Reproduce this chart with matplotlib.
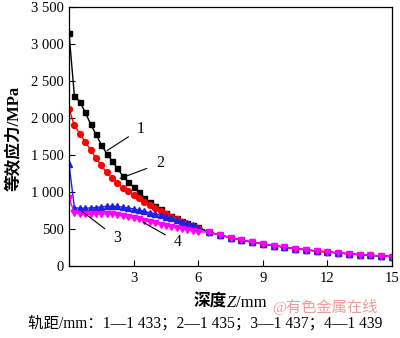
import matplotlib.pyplot as plt
from matplotlib.ticker import FuncFormatter
import numpy as np

plt.rcParams['font.family'] = ['Liberation Serif', 'Noto Sans CJK SC']

# depth, mm: 0.25 mm steps near the surface, 0.5 mm steps in the tail
depth_near = [0, 0.25, 0.5, 0.75, 1.0, 1.25, 1.5, 1.75, 2.0, 2.25, 2.5, 2.75,
              3.0, 3.25, 3.5, 3.75, 4.0, 4.25, 4.5, 4.75, 5.0, 5.25, 5.5, 5.75, 6.0]
depth_tail = [6.5, 7.0, 7.5, 8.0, 8.5, 9.0, 9.5, 10.0, 10.5, 11.0, 11.5,
              12.0, 12.5, 13.0, 13.5, 14.0, 14.5, 15.0]

# equivalent stress, MPa (gauge 1433 / 1435 / 1437 / 1439)
stress_1433 = [3150, 2300, 2220, 2080, 1920, 1780, 1640, 1520, 1420, 1320, 1215, 1140,
               1065, 995, 920, 865, 815, 765, 720, 680, 645, 615, 580, 555, 525]
stress_1435 = [2120, 1900, 1790, 1680, 1570, 1460, 1360, 1265, 1190, 1120, 1060, 1010,
               960, 915, 865, 820, 780, 740, 705, 668, 635, 600, 568, 540, 510]
stress_1437 = [1380, 790, 780, 780, 785, 790, 800, 805, 808, 805, 795, 785,
               770, 755, 740, 722, 705, 685, 665, 645, 620, 598, 575, 550, 520]
stress_1439 = [920, 720, 705, 700, 700, 702, 705, 705, 700, 690, 675, 660,
               645, 630, 612, 595, 578, 560, 545, 530, 515, 500, 488, 475, 462]
stress_tail = [458, 418, 385, 352, 322, 298, 276, 256, 236, 218, 203,
               190, 177, 165, 154, 144, 136, 128]

labels = ['1', '2', '3', '4']
caption = '轨距/mm：1—1 433；2—1 435；3—1 437；4—1 439'

fig = plt.figure(figsize=(4.0, 3.38), dpi=100)
ax = fig.add_axes([0.1725, 0.213, 0.8075, 0.766])

z = depth_near + depth_tail
styles = [('black', 's', 3.6), ('red', 'o', 4.2), ('#1f1fe6', '^', 4.6), ('#ff00ff', 'v', 4.6)]
for vals, (c, m, ms) in zip([stress_1433, stress_1435, stress_1437, stress_1439], styles):
    ax.plot(z, vals + stress_tail, color=c, marker=m, markersize=ms, lw=1.0)

# leader lines with curve numbers
leaders = [((1.77, 1561), (3.35, 1857)), ((2.37, 1184), (4.23, 1386)),
           ((0.6, 740), (2.23, 377)), ((3.44, 592), (5.07, 323))]
for lab, (end, txt) in zip(labels, leaders):
    ax.annotate(lab, xy=end, xytext=txt, fontsize=11.5, ha='center', va='center',
                arrowprops=dict(arrowstyle='-', lw=0.8, color='black', shrinkA=5, shrinkB=0))

ax.set_xlim(0, 15)
ax.set_ylim(0, 3500)
ax.set_xticks(np.arange(0, 16, 3))
ax.set_yticks(np.arange(0, 3501, 500))
ax.xaxis.set_major_formatter(FuncFormatter(lambda v, p: '' if v == 0 else f'{v:.0f}'))
ax.yaxis.set_major_formatter(FuncFormatter(lambda v, p: f'{int(v):,}'.replace(',', ' ')))
ax.tick_params(direction='in', length=4, width=0.8, labelsize=10.5, pad=4)
for s in ax.spines.values():
    s.set_linewidth(0.9)

fig.text(0.037, 1 - 138 / 338, '等效应力/MPa', rotation=90, ha='center', va='center',
         fontsize=12, fontweight='bold')

t1 = fig.text(194 / 400, 1 - 303 / 338, '深度', ha='left', va='center',
              fontsize=12, fontweight='bold')
t2 = ax.annotate('Z', xy=(1, 0.5), xycoords=t1, ha='left', va='center',
                 fontsize=12, fontstyle='italic')
ax.annotate('/mm', xy=(1, 0.5), xycoords=t2, ha='left', va='center', fontsize=12)

fig.text(0.07, 1 - 324 / 338, caption, ha='left', va='center', fontsize=11.2)
fig.text(0.68, 1 - 307 / 338, '@有色金属在线', ha='left', va='center', fontsize=11,
         color='#f08080', alpha=0.8)

fig.savefig('out.png', dpi=100)
